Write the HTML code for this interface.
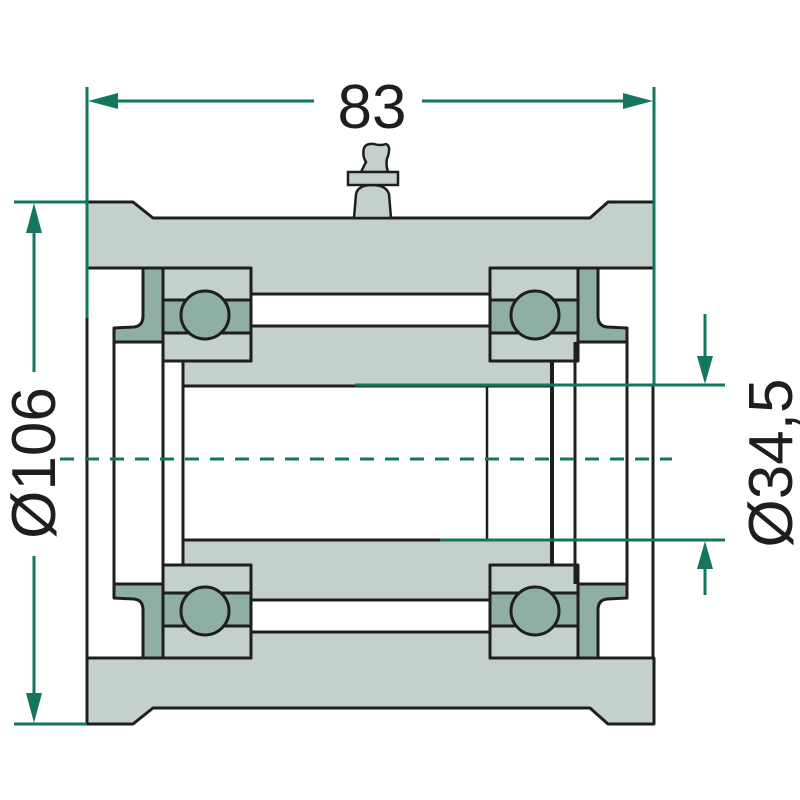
<!DOCTYPE html>
<html><head><style>html,body{margin:0;padding:0;background:#fff}svg{display:block}</style></head>
<body>
<svg width="800" height="800" viewBox="0 0 800 800" xmlns="http://www.w3.org/2000/svg">
<defs>
<g id="half" stroke="#1e1e1e" stroke-width="3" stroke-linejoin="round">
  <polygon points="87,202 133,202 153,218 590,218 608,202 654,202 654,268 490,268 490,294 251,294 251,268 87,268" fill="#c3d0cb"/>
  <polygon points="251,326 490,326 490,361 552,361 552,386 183,386 183,361 251,361" fill="#c3d0cb"/>
  <path d="M143,268 L163,268 L163,342 L114,342 L114,328 L134,327 Q143,326 143,316 Z" fill="#8fafa4"/>
  <path d="M598,268 L578,268 L578,342 L627,342 L627,328 L607,327 Q598,326 598,316 Z" fill="#8fafa4"/>
  <rect x="163" y="268" width="88" height="93" fill="#c3d0cb"/>
  <rect x="163" y="300" width="88" height="33" fill="#8fafa4"/>
  <circle cx="205" cy="315" r="24" fill="#8fafa4"/>
  <rect x="490" y="268" width="88" height="93" fill="#c3d0cb"/>
  <rect x="490" y="300" width="88" height="33" fill="#8fafa4"/>
  <circle cx="535" cy="315" r="24" fill="#8fafa4"/>
</g>
</defs>
<use href="#half"/>
<use href="#half" transform="translate(0,926) scale(1,-1)"/>
<!-- grease nipple -->
<g stroke="#1e1e1e" stroke-width="2.5" fill="#c3d0cb">
  <path d="M354,218 L356,194 Q358,185 372,185 Q386,185 389,194 L391,218 Z"/>
  <path d="M361,172 L366,162 Q362,156 364,148 Q366,143 374,144 Q380,146 386,144 Q391,146 388,156 Q385,162 388,172 Z"/>
  <rect x="348" y="172" width="50" height="13"/>
</g>
<!-- verticals -->
<g stroke="#1e1e1e" stroke-width="3" fill="none">
  <line x1="87" y1="268" x2="87" y2="658"/>
  <line x1="114" y1="342" x2="114" y2="584"/>
  <line x1="163" y1="361" x2="163" y2="565"/>
  <line x1="183" y1="386" x2="183" y2="540"/>
  <line x1="487" y1="386" x2="487" y2="540" stroke-width="2.5"/>
  <line x1="552" y1="361" x2="552" y2="565" stroke-width="4"/>
  <line x1="575" y1="342" x2="575" y2="584"/>
  <line x1="627" y1="342" x2="627" y2="584"/>
  <line x1="653" y1="385" x2="653" y2="658"/>
</g>
<!-- dimensions -->
<g stroke="#13765f" stroke-width="3" fill="none">
  <line x1="87" y1="87" x2="87" y2="318"/>
  <line x1="654" y1="87" x2="654" y2="385"/>
  <line x1="95" y1="101" x2="314" y2="101"/>
  <line x1="422" y1="101" x2="646" y2="101"/>
  <line x1="14" y1="202" x2="87" y2="202"/>
  <line x1="14" y1="724" x2="87" y2="724"/>
  <line x1="34" y1="210" x2="34" y2="372"/>
  <line x1="34" y1="556" x2="34" y2="716"/>
  <line x1="355" y1="385" x2="725" y2="385"/>
  <line x1="440" y1="540" x2="725" y2="540"/>
  <line x1="705" y1="314" x2="705" y2="380"/>
  <line x1="705" y1="545" x2="705" y2="595"/>
  <line x1="60" y1="459" x2="672" y2="459" stroke-dasharray="14,11"/>
</g>
<g fill="#13765f">
  <polygon points="88,101 118,93 118,109"/>
  <polygon points="653,101 623,93 623,109"/>
  <polygon points="34,203 26,233 42,233"/>
  <polygon points="34,723 26,693 42,693"/>
  <polygon points="705,384 697,356 713,356"/>
  <polygon points="705,541 697,569 713,569"/>
</g>
<g font-family="Liberation Sans, sans-serif" font-size="62" fill="#1e1e1e" text-anchor="middle">
  <text x="372" y="128">83</text>
  <text transform="translate(55,463) rotate(-90)">Ø106</text>
  <text transform="translate(792,463) rotate(-90)">Ø34,5</text>
</g>
</svg>
</body></html>
